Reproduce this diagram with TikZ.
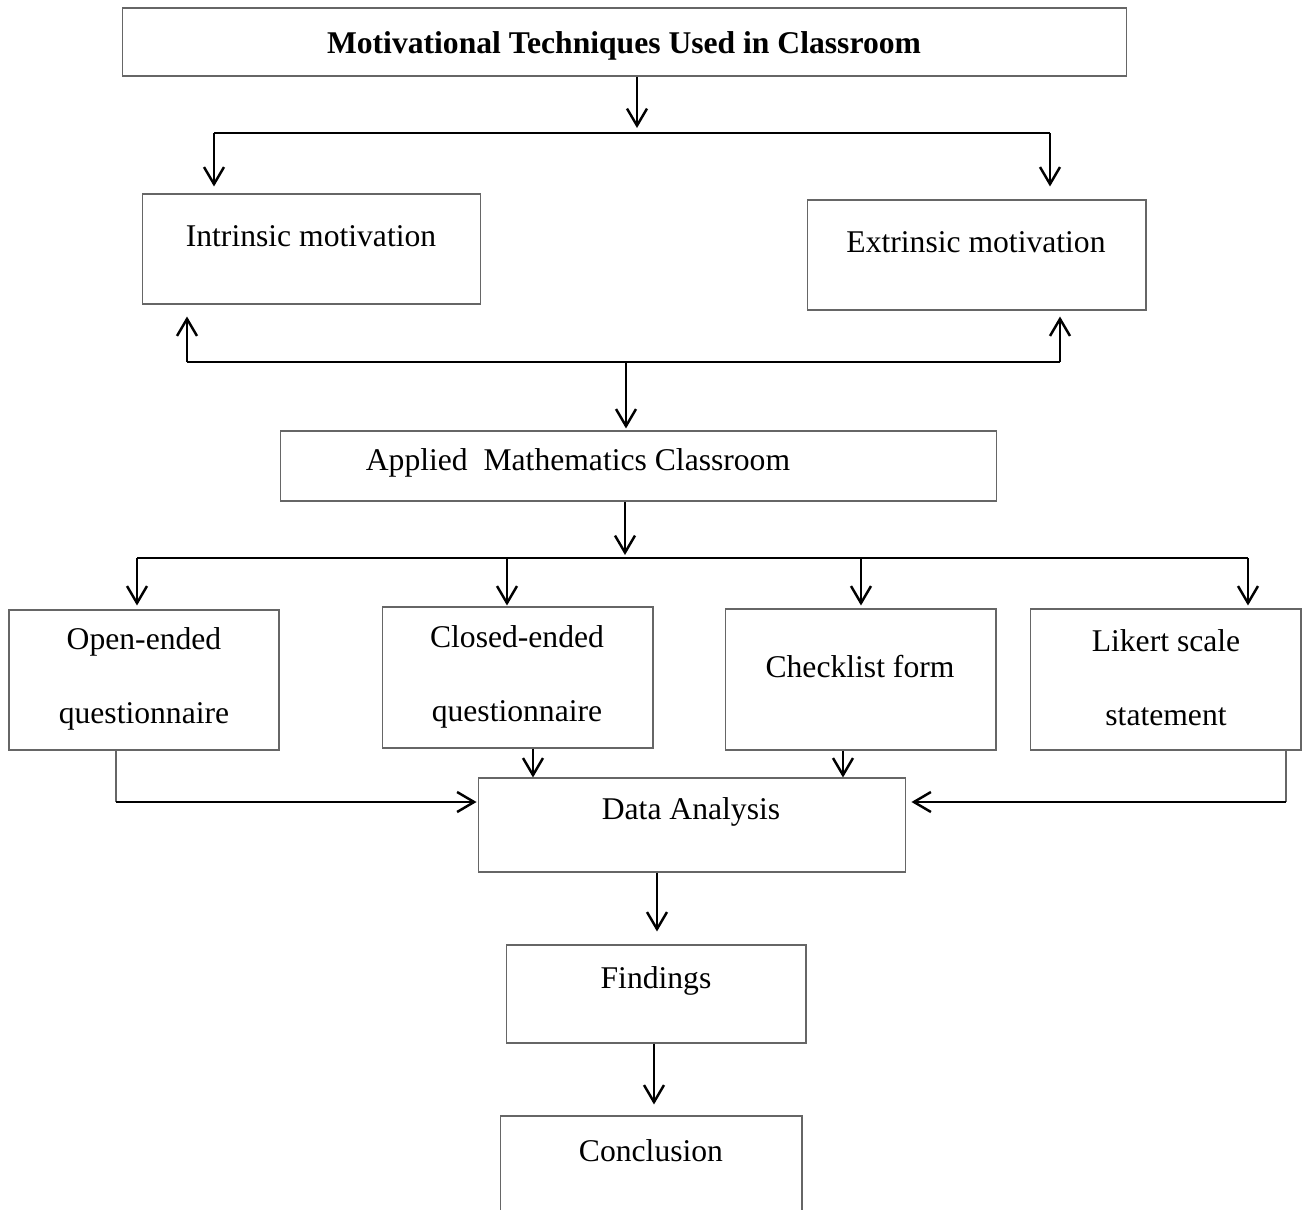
\documentclass[tikz,border=0pt]{standalone}
\usepackage{fontspec}
\setmainfont{Liberation Serif}
\usepackage{tikz}
\usetikzlibrary{arrows.meta,positioning,calc}

\begin{document}
\begin{tikzpicture}[
    x=0.02cm, y=-0.02cm,
    box/.style={rectangle, draw=black!60, line width=0.6pt, inner sep=0pt},
    lbl/.style={font=\fontsize{18}{42}\selectfont, align=center, inner sep=0pt},
    link/.style={line width=0.9pt},
    arrow/.style={-{Straight Barb[length=3.4mm,width=4mm]}, line width=1.4pt},
    thinlink/.style={draw=black!60, line width=0.6pt}
]
    \useasboundingbox (0,0) rectangle (1303,1210);
    \clip (0,0) rectangle (1303,1210);

    % Title (top)
    \node[box, minimum width=20.1cm, minimum height=1.36cm] (title) at (624.5,42) {};
    \node[lbl, font=\fontsize{18}{22}\selectfont\bfseries] (titletxt) at (624,46) {Motivational Techniques Used in Classroom};

    % Motivation types
    \node[box, minimum width=6.78cm, minimum height=2.2cm] (intr) at (311.5,249) {};
    \node[lbl] (intrtxt) at (311,236) {Intrinsic motivation};
    \node[box, minimum width=6.78cm, minimum height=2.2cm] (extr) at (976.5,255) {};
    \node[lbl] (extrtxt) at (976,242) {Extrinsic motivation};

    % Classroom
    \node[box, minimum width=14.34cm, minimum height=1.4cm] (appl) at (638.5,466) {};
    \node[lbl] (appltxt) at (578,463) {Applied\ \ Mathematics Classroom};

    % Instruments
    \node[box, minimum width=5.4cm, minimum height=2.8cm] (open) at (144,680) {};
    \node[lbl] (opentxt) at (144,679) {Open-ended\\questionnaire};
    \node[box, minimum width=5.42cm, minimum height=2.82cm] (closed) at (517.5,677.5) {};
    \node[lbl] (closedtxt) at (517,677) {Closed-ended\\questionnaire};
    \node[box, minimum width=5.42cm, minimum height=2.82cm] (check) at (860.5,679.5) {};
    \node[lbl] (checktxt) at (860,667) {Checklist form};
    \node[box, minimum width=5.42cm, minimum height=2.82cm] (likert) at (1165.5,679.5) {};
    \node[lbl] (likerttxt) at (1166,678) {Likert scale\\statement};

    % Analysis chain
    \node[box, minimum width=8.56cm, minimum height=1.88cm] (data) at (692,825) {};
    \node[lbl] (datatxt) at (691,812) {Data Analysis};
    \node[box, minimum width=6cm, minimum height=1.96cm] (find) at (656,994) {};
    \node[lbl] (findtxt) at (656,981) {Findings};
    \node[box, minimum width=6.04cm, minimum height=2.4cm] (concl) at (651,1176) {};
    \node[lbl] (concltxt) at (651,1151) {Conclusion};

    % Title -> motivation types
    \coordinate (topsplit) at (637,133);
    \coordinate (topL) at (214,133);
    \coordinate (topR) at (1050,133);
    \draw[arrow] (title.south -| topsplit) -- ($(topsplit)+(0,-5)$);
    \draw[link] (topL) -- (topR);
    \draw[arrow] (topL) -- ($(intr.north -| topL)+(0,-7)$);
    \draw[arrow] (topR) -- ($(extr.north -| topR)+(0,-13)$);

    % Motivation types <- classroom
    \coordinate (midL) at (187,362);
    \coordinate (midR) at (1060,362);
    \coordinate (midsplit) at (626,362);
    \draw[link] (midL) -- (midR);
    \draw[arrow] (midL) -- ($(intr.south -| midL)+(0,12)$);
    \draw[arrow] (midR) -- ($(extr.south -| midR)+(0,6)$);
    \draw[arrow] (midsplit) -- ($(appl.north -| midsplit)+(0,-2)$);

    % Classroom -> instruments
    \coordinate (lowsplit) at (625,558);
    \coordinate (lowA) at (137,558);
    \coordinate (lowB) at (507,558);
    \coordinate (lowC) at (861,558);
    \coordinate (lowD) at (1248,558);
    \draw[arrow] (appl.south -| lowsplit) -- ($(lowsplit)+(0,-3)$);
    \draw[link] (lowA) -- (lowD);
    \draw[arrow] (lowA) -- ($(open.north -| lowA)+(0,-4)$);
    \draw[arrow] (lowB) -- ($(closed.north -| lowB)+(0,-1)$);
    \draw[arrow] (lowC) -- ($(check.north -| lowC)+(0,-3)$);
    \draw[arrow] (lowD) -- ($(likert.north -| lowD)+(0,-3)$);

    % Instruments -> data analysis
    \coordinate (openbend) at (116,802);
    \coordinate (likertbend) at (1286,802);
    \draw[arrow] ($(closed.south)+(15.5,0)$) -- ($(data.north -| closed.south)+(15.5,0)$);
    \draw[arrow] ($(check.south)+(-17.5,0)$) -- ($(data.north -| check.south)+(-17.5,0)$);
    \draw[thinlink] (open.south -| openbend) -- (openbend);
    \draw[arrow] (openbend) -- ($(data.west |- openbend)+(-1,0)$);
    \draw[thinlink] (likert.south -| likertbend) -- (likertbend);
    \draw[arrow] (likertbend) -- ($(data.east |- likertbend)+(5,0)$);

    % Data analysis -> findings -> conclusion
    \draw[arrow] ($(data.south)+(-35,0)$) -- ($(find.north)+(1,-13)$);
    \draw[arrow] ($(find.south)+(-2,0)$) -- ($(concl.north)+(3,-11)$);
\end{tikzpicture}
\end{document}
